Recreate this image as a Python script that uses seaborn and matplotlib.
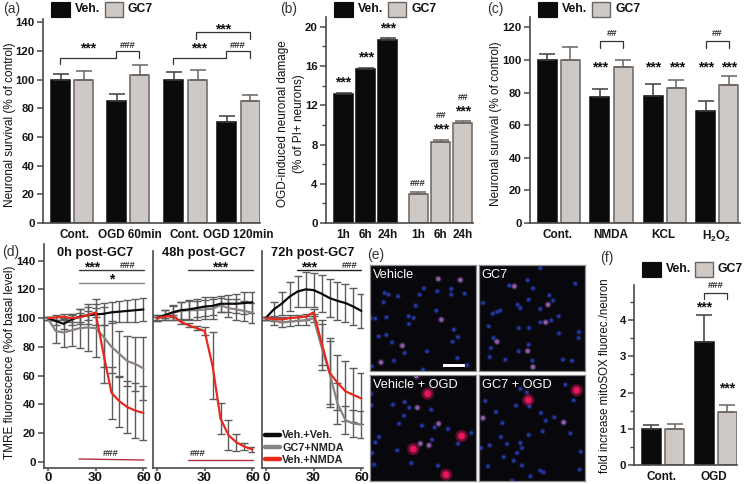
import numpy as np
import pandas as pd
import matplotlib
matplotlib.use("Agg")
import matplotlib.pyplot as plt
from matplotlib.lines import Line2D
from matplotlib.patches import Rectangle
import seaborn as sns

# Panel (a)
a_labels = ["Cont.", "OGD 60min", "Cont.", "OGD 120min"]
a_veh = [100, 85, 100, 70.5]
a_gc7 = [100, 103.5, 100, 85]
a_veh_err = [4, 5, 5, 4]
a_gc7_err = [6, 6.5, 6.5, 4.5]

# Panel (b)
b_labels = ["1h", "6h", "24h"]
b_veh = [13.1, 15.7, 18.7]
b_gc7 = [3.0, 8.3, 10.2]
b_veh_err = [0.2, 0.15, 0.2]
b_gc7_err = [0.2, 0.2, 0.2]

# Panel (c)
c_labels = ["Cont.", "NMDA", "KCL", r"$\mathbf{H_2O_2}$"]
c_veh = [100, 77.5, 78, 68.5]
c_gc7 = [100, 95.5, 83, 84.5]
c_veh_err = [3.5, 4.5, 7, 6]
c_gc7_err = [8, 4.5, 4.5, 5.5]

# Panel (f)
f_labels = ["Cont.", "OGD"]
f_veh = [1.0, 3.4]
f_gc7 = [1.0, 1.47]
f_veh_err = [0.1, 0.73]
f_gc7_err = [0.13, 0.2]

# Panel (d), TMRE time courses
minutes = [0, 5, 10, 15, 20, 25, 30, 35, 40, 45, 50, 55, 60]

d0_black = [100, 98, 96, 99, 101, 102, 102.5, 103, 104, 104.5, 105, 105.5, 106]
d0_grey = [100, 91, 90, 91.5, 93, 93.5, 93, 87, 80, 75, 70, 68, 65]
d0_red = [100, 100.5, 101, 100, 100.5, 102, 104, 75, 48, 42, 38, 35.5, 34]
d0_black_err = [1, 3, 3.5, 4, 5, 6, 7.5, 7.5, 7.5, 7.5, 7.5, 8, 8]
d0_grey_err = [1, 8, 10, 11, 13.5, 16.5, 20, 21, 18, 16, 17.5, 19, 22]
d0_red_err = [1, 1.5, 2, 3, 3, 3, 3, 20, 18, 17.5, 18, 19, 19]

d1_black = [100, 102, 104, 105.5, 106, 107, 108, 108.5, 110, 110, 110, 110.5, 111]
d1_grey = [100, 102, 103.5, 105, 105.5, 105.5, 106, 106.5, 109, 107, 106, 105, 103.7]
d1_red = [100, 101, 101.5, 97.5, 95, 93, 91, 67, 30, 18.5, 13.5, 10.5, 8.5]
d1_black_err = [2, 3.5, 5, 6, 6.5, 6.5, 6.5, 6.5, 5.5, 6, 6.5, 7.5, 7.5]
d1_grey_err = [2, 3.5, 5, 6.5, 6.5, 6.5, 6.5, 7, 5, 6.5, 7, 7, 7]
d1_red_err = [1, 1, 1, 1.5, 1.5, 1.5, 2.5, 23, 11, 10.5, 6, 2.5, 2]

d2_black = [100, 106, 110, 115, 118.5, 120, 119.5, 117, 114, 112, 110.5, 108, 105]
d2_grey = [100, 98.5, 97, 97.5, 98, 98.5, 100, 80, 62, 40.5, 29, 26.5, 26]
d2_red = [100, 99.5, 99, 100, 100.5, 101, 104, 83, 62, 55, 49, 46.5, 44]
d2_black_err = [1, 5, 8, 10, 11, 12, 12, 13, 13, 13, 13, 13, 12]
d2_grey_err = [1, 3, 3, 3, 3, 3, 3, 16, 22, 14, 10, 9.5, 9.5]
d2_red_err = [1, 1.5, 1.5, 2, 2, 2, 2.5, 16, 24, 19, 21, 19, 18]

d_names = ["Veh.+Veh.", "GC7+NMDA", "Veh.+NMDA"]

# Panel (e), cell positions
veh_blue = [(50, 90), (62, 95), (90, 100), (47, 118), (155, 95), (168, 76), (208, 85), (250, 78),
            (250, 95), (290, 92), (143, 128), (122, 160), (137, 165), (205, 143), (8, 165), (22, 167),
            (55, 163), (123, 183), (258, 200), (32, 220), (55, 216), (270, 222), (254, 236), (72, 238),
            (110, 270), (177, 265), (268, 285), (78, 293), (298, 306), (165, 320), (12, 310)]
veh_pink = [(211, 48), (277, 51), (220, 170), (103, 248), (39, 298)]
veh_red = []

gc7_blue = [(190, 15), (152, 52), (168, 76), (97, 68), (18, 120), (122, 125), (130, 135), (217, 97),
            (228, 113), (190, 138), (47, 152), (60, 147), (70, 143), (245, 160), (190, 178), (223, 172),
            (156, 195), (246, 211), (306, 207), (305, 225), (50, 225), (42, 255), (38, 282), (155, 245),
            (166, 293), (285, 293), (258, 290), (85, 290), (125, 195), (295, 62), (35, 190), (125, 265),
            (155, 110)]
gc7_pink = [(112, 70), (213, 125), (206, 178), (60, 236), (152, 264), (168, 312)]
gc7_red = []

vo_blue = [(10, 63), (10, 97), (75, 95), (110, 87), (124, 104), (190, 110), (108, 128), (93, 152),
           (162, 158), (200, 163), (240, 168), (33, 192), (22, 208), (192, 200), (270, 212), (310, 180),
           (12, 240), (18, 275), (130, 270), (210, 278), (88, 232)]
vo_pink = [(148, 104), (212, 152), (157, 212), (183, 217), (145, 10)]
vo_red = [(179, 62), (136, 228), (281, 189), (234, 305)]

go_blue = [(265, 35), (130, 48), (150, 58), (290, 82), (25, 84), (117, 98), (157, 100), (57, 117),
           (192, 120), (232, 133), (206, 143), (76, 150), (197, 175), (155, 186), (280, 181), (72, 192),
           (38, 217), (12, 225), (90, 213), (130, 210), (135, 225), (120, 240), (80, 252), (110, 263),
           (135, 277), (33, 280), (311, 236), (308, 290), (160, 310), (105, 323), (190, 293), (200, 298)]
go_pink = [(260, 148), (18, 135)]
go_red = [(299, 52), (154, 81)]

W, H = 746, 484
BLACK = "#0b0b0b"
GREY = "#cfc9c5"
EDGE = "#6a6562"
AXC = "#4a4a4a"

sns.set_theme(style="ticks")
plt.rcParams["font.family"] = ["Liberation Sans", "DejaVu Sans"]
plt.rcParams["mathtext.fontset"] = "custom"
plt.rcParams["mathtext.bf"] = "Liberation Sans:bold"
plt.rcParams["mathtext.rm"] = "Liberation Sans"

fig = plt.figure(figsize=(W / 100, H / 100), dpi=100, facecolor="white")


def make_ax(left, right, bottom, top):
    # axes placed by its pixel box on the 746x484 canvas
    ax = fig.add_axes([left / W, 1 - bottom / H, (right - left) / W, (bottom - top) / H])
    ax.set_facecolor("none")
    return ax


def style_ax(ax):
    sns.despine(ax=ax)
    for side in ["left", "bottom"]:
        ax.spines[side].set_color(AXC)
        ax.spines[side].set_linewidth(1.2)
    ax.tick_params(axis="y", which="major", length=4.5, width=1.1, color=AXC, pad=1.5, labelsize=8.2)
    ax.tick_params(axis="y", which="minor", length=3, width=1.0, color=AXC)
    ax.tick_params(axis="x", length=0, pad=4.5, labelsize=8.5)
    for lab in ax.get_xticklabels() + ax.get_yticklabels():
        lab.set_fontweight("bold")
        lab.set_color("#151515")
    ax.set_xlabel("")
    ax.set_ylabel("")


def bar_panel(box, ymax, veh_pos, gc7_pos, veh, gc7, veh_err, gc7_err, yticks, xticks, xlabels, bar_w=19):
    ax = make_ax(*box)
    pos = list(veh_pos) + list(gc7_pos)
    df = pd.DataFrame({"pos": pos,
                       "value": list(veh) + list(gc7),
                       "series": ["Veh."] * len(veh) + ["GC7"] * len(gc7)})
    gap = np.diff(np.sort(pos)).min()
    sns.barplot(data=df, x="pos", y="value", hue="series", palette={"Veh.": BLACK, "GC7": GREY},
                native_scale=True, dodge=False, width=bar_w / gap, errorbar=None, legend=False,
                linewidth=1.1, edgecolor=EDGE, saturation=1, ax=ax)
    for bar in ax.containers[0]:
        bar.set_edgecolor(BLACK)
    ax.errorbar(veh_pos, veh, yerr=[np.zeros(len(veh)), veh_err], fmt="none", ecolor="#3c3c3c",
                elinewidth=1.1, capsize=6, capthick=1.1, zorder=1)
    ax.errorbar(gc7_pos, gc7, yerr=[np.zeros(len(gc7)), gc7_err], fmt="none", ecolor=EDGE,
                elinewidth=1.1, capsize=6, capthick=1.1, zorder=1)
    ax.set_xlim(box[0], box[1])
    ax.set_ylim(0, ymax)
    ax.set_yticks(yticks)
    ax.set_xticks(xticks, xlabels)
    style_ax(ax)
    return ax


# bar panels: x axis of each panel runs in canvas pixels
ax_a = bar_panel((43, 260, 223, 19), 142.3, [60.5, 116.5, 173.5, 226.5], [83.5, 139.5, 197.5, 250],
                 a_veh, a_gc7, a_veh_err, a_gc7_err, range(0, 141, 20), [74, 130, 185, 238], a_labels)
ax_b = bar_panel((326, 473, 223, 17), 21.0, [343.5, 365.5, 387.5], [418, 440.5, 462.5],
                 b_veh, b_gc7, b_veh_err, b_gc7_err, range(0, 21, 4),
                 [343.5, 365.5, 387.5, 418, 440.5, 462.5], b_labels + b_labels)
ax_b.set_yticks(range(2, 19, 4), minor=True)
ax_c = bar_panel((530, 740, 223, 17), 126.3, [547.5, 600, 653.5, 706], [570.5, 623.5, 676.5, 729],
                 c_veh, c_gc7, c_veh_err, c_gc7_err, range(0, 121, 20), [558, 611, 663, 717], c_labels)
ax_f = bar_panel((634.3, 737, 465, 285), 4.97, [651, 704], [674.5, 727],
                 f_veh, f_gc7, f_veh_err, f_gc7_err, range(0, 5), [661.7, 714], f_labels)
ax_f.set_yticks(np.arange(0.5, 4.6, 1), minor=True)

# panel (d)
d_sets = [(d0_black, d0_grey, d0_red, d0_black_err, d0_grey_err, d0_red_err),
          (d1_black, d1_grey, d1_red, d1_black_err, d1_grey_err, d1_red_err),
          (d2_black, d2_grey, d2_red, d2_black_err, d2_grey_err, d2_red_err)]
d_boxes = [(44, 146, 467.7, 244), (153, 254, 467.7, 251), (261.7, 363, 467.7, 251)]
d_zero = [47.7, 156.7, 265.7]
d_palette = dict(zip(d_names, ["#0b0b0b", "#8b8381", "#e52a1d"]))
px_x = 1.595
px_y = 1.436
for i, (box, x0, vals) in enumerate(zip(d_boxes, d_zero, d_sets)):
    ax = make_ax(*box)
    long_df = pd.DataFrame({"minute": minutes * 3,
                            "value": vals[0] + vals[1] + vals[2],
                            "group": sum([[n] * len(minutes) for n in d_names], [])})
    for k in [1, 2, 0]:
        ax.errorbar(minutes, vals[k], yerr=vals[k + 3], fmt="none", ecolor="#5c5c5c",
                    elinewidth=1.0, capsize=2.9, capthick=1.0, zorder=1)
    sns.lineplot(data=long_df, x="minute", y="value", hue="group", hue_order=[d_names[1], d_names[0], d_names[2]],
                 palette=d_palette, errorbar=None, linewidth=1.6, legend=False, ax=ax, zorder=3)
    ax.set_xlim((box[0] - x0) / px_x, (box[1] - x0) / px_x)
    ax.set_ylim((461.7 - box[2]) / px_y, (461.7 - box[3]) / px_y)
    ax.set_xticks([0, 30, 60])
    style_ax(ax)
    ax.tick_params(axis="x", length=2.5, width=1.1, color=AXC, pad=0.5, labelsize=9.5)
    if i == 0:
        ax.set_yticks(range(0, 141, 20))
        for lab in ax.get_yticklabels():
            lab.set_fontweight("bold")
    else:
        ax.set_yticks([])
    for lab in ax.get_xticklabels():
        lab.set_fontweight("bold")

# panel (e): micrographs rebuilt as dark panels with one marker per cell
e_panels = [(veh_blue, veh_pink, veh_red, 368, 263, "Vehicle"),
            (gc7_blue, gc7_pink, gc7_red, 477, 263, "GC7"),
            (vo_blue, vo_pink, vo_red, 368, 373, "Vehicle + OGD"),
            (go_blue, go_pink, go_red, 477, 373, "GC7 + OGD")]
for blue, pink, red, ox, oy, name in e_panels:
    ax = make_ax(ox + 2, ox + 107.5, oy + 107.7, oy + 2)
    ax.set_facecolor("#08080c")
    for pts, colour, sizes in [(blue, "#2438a8", [18, 6]), (pink, "#8f5cad", [24, 9]), (red, "#e8175c", [85, 50, 22])]:
        if pts:
            xs, ys = zip(*pts)
            for n, s_val in enumerate(sizes):
                sns.scatterplot(x=list(xs), y=list(ys), s=s_val, color=colour,
                                alpha=1.0 if n == len(sizes) - 1 else 0.3, edgecolor="none",
                                legend=False, ax=ax)
    ax.set_xlim(6, 322.5)
    ax.set_ylim(323, 6)
    ax.set_xticks([])
    ax.set_yticks([])
    ax.set_xlabel("")
    ax.set_ylabel("")
    for s in ax.spines.values():
        s.set_color("#8c8c8c")
        s.set_linewidth(0.9)
    ax.text(14, 36, name, color="white", fontsize=9.2, va="center", ha="left")
    if name == "Vehicle":
        ax.add_patch(Rectangle((224, 303), 66, 8, color="white", lw=0))

# overlay in canvas pixels for legends, brackets and significance marks
ov = fig.add_axes([0, 0, 1, 1], zorder=20)
ov.set_xlim(0, W)
ov.set_ylim(H, 0)
ov.axis("off")


def txt(x, y, s, size=9, weight="normal", rot=0, ha="center", color="#111111"):
    ov.text(x, y, s, fontsize=size, fontweight=weight, rotation=rot, ha=ha, va="center", color=color)


def key(xb, xg, xv, xc, ytop, h=15):
    ov.add_patch(Rectangle((xb, ytop), 19, h, facecolor=BLACK, edgecolor=BLACK, lw=0.8))
    ov.add_patch(Rectangle((xg, ytop), 18, h, facecolor=GREY, edgecolor=EDGE, lw=1.0))
    txt(xv, ytop + h / 2, "Veh.", 8.8, "bold", ha="left")
    txt(xc, ytop + h / 2, "GC7", 8.8, "bold", ha="left")


def bracket(x0, x1, y, d0, d1):
    ov.plot([x0, x0, x1, x1], [y + d0, y, y, y + d1], color="#333333", lw=0.9, solid_joinstyle="miter")


def stars(x, y, s="***"):
    txt(x, y + 2.5, s, 10, "bold")


def hashes(x, y, s="###"):
    txt(x, y, s, 6.8, "bold", color="#333333")


key(51, 105, 75, 128, 2)
key(334, 388, 358, 411, 2)
key(538, 592, 562, 615, 2)
key(642, 695, 666, 718, 261.7)

for x, y, s in [(3, 9, "(a)"), (280, 9, "(b)"), (487, 9, "(c)"), (2, 252, "(d)"), (367, 255, "(e)"), (600, 258, "(f)")]:
    txt(x, y, s, 10, ha="left", color="#333333")

ylab = 8.5
txt(10, 125, "Neuronal survival (% of control)", ylab, rot=90)
txt(283, 124, "OGD-induced neuronal damage", ylab, rot=90)
txt(299, 124, "(% of PI+ neurons)", ylab, rot=90)
txt(495.7, 124, "Neuronal survival (% of control)", ylab, rot=90)
txt(10, 362, "TMRE fluorescence (%of basal level)", ylab, rot=90)
txt(605, 375.5, "fold increase mitoSOX fluorec./neuron", 8.3, rot=90)

# (a) marks
bracket(60.3, 116.3, 57.7, 6.5, 0)
bracket(116.3, 139.3, 51.3, 6.5, 6.5)
bracket(173.3, 226, 57.7, 6.5, 0)
bracket(226, 249.5, 51.3, 6.5, 6.5)
bracket(196, 249.5, 32, 6.5, 6.5)
stars(88, 46)
hashes(128, 46)
stars(199, 46)
hashes(238, 46)
stars(223, 27)

# (b) marks
for x, y in [(343, 80), (366, 55), (388, 26), (441, 127), (463, 109)]:
    stars(x, y)
hashes(418, 183)
hashes(441, 115, "##")
hashes(463, 97, "##")

# (c) marks
bracket(600.3, 623.3, 41, 6.7, 6.7)
bracket(706, 729, 41, 6.7, 6.7)
hashes(612, 33, "##")
hashes(717, 33, "##")
for x in [600, 653, 677, 706, 729]:
    stars(x, 65)

# (f) marks
bracket(704.3, 727.3, 292.7, 6.6, 6.6)
hashes(716, 285.7)
stars(704, 305)
stars(726.7, 386)

# (d) titles and bars
for x, s in [(95.5, "0h post-GC7"), (203.7, "48h post-GC7"), (313, "72h post-GC7")]:
    txt(x, 253, s, 9.3, "bold")
ov.plot([79, 144], [270.3, 270.3], color="#3a3a3a", lw=1.0)
ov.plot([79, 144], [282.7, 282.7], color="#8b8381", lw=1.0)
ov.plot([79, 144], [459, 460], color="#b0303e", lw=1.0)
stars(92, 265)
hashes(128, 266)
stars(112, 277, "*")
hashes(111, 453)
ov.plot([188.3, 252.7], [270.3, 270.3], color="#3a3a3a", lw=1.0)
ov.plot([188.3, 252.7], [459.5, 459.5], color="#b0303e", lw=1.0)
stars(220, 265)
hashes(197.7, 453)
ov.plot([296.7, 361], [270.3, 270.3], color="#222222", lw=1.0)
stars(308.7, 265)
hashes(350, 266)

handles = [Line2D([], [], color=d_palette[n], lw=3.2) for n in d_names]
leg = ov.legend(handles, d_names, loc="upper left", bbox_to_anchor=(265, 430.5), bbox_transform=ov.transData,
                frameon=False, handlelength=1.4, handletextpad=0.2, labelspacing=0.22,
                borderpad=0, borderaxespad=0, prop={"weight": "bold", "size": 7.8})

fig.savefig("out.png", dpi=100)
